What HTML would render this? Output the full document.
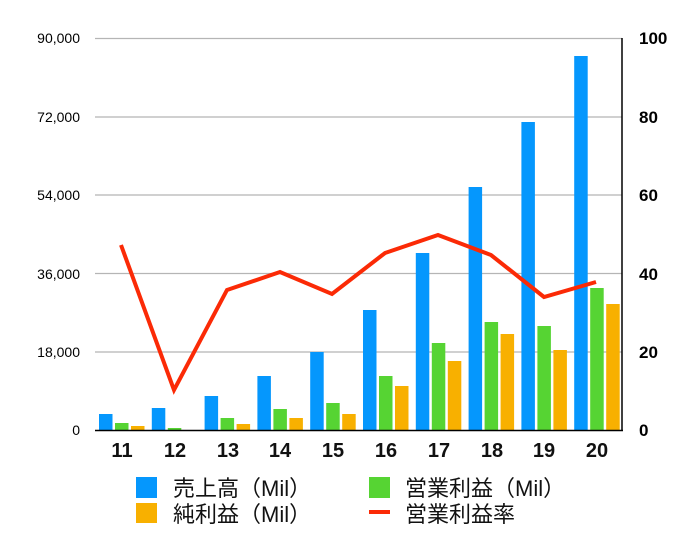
<!DOCTYPE html>
<html><head><meta charset="utf-8"><style>
html,body{margin:0;padding:0;background:#fff;}
svg{display:block;}
</style></head><body>
<svg width="699" height="545" xmlns="http://www.w3.org/2000/svg" font-family="'Liberation Sans','Noto Sans CJK JP',sans-serif">
<g stroke="#b5b5b5" stroke-width="1.3">
<line x1="95" y1="38.5" x2="622" y2="38.5"/>
<line x1="95" y1="117" x2="622" y2="117"/>
<line x1="95" y1="195" x2="622" y2="195"/>
<line x1="95" y1="273.5" x2="622" y2="273.5"/>
<line x1="95" y1="352" x2="622" y2="352"/>
</g>
<line x1="622" y1="38" x2="622" y2="431" stroke="#000" stroke-width="1.5"/>
<g id="bars">
<!-- x0 = 99 + 52.8k -->
<g fill="#0597fd">
<rect x="99" y="414" width="13.5" height="16"/>
<rect x="151.8" y="408" width="13.5" height="22"/>
<rect x="204.6" y="396" width="13.5" height="34"/>
<rect x="257.4" y="376" width="13.5" height="54"/>
<rect x="310.2" y="352" width="13.5" height="78"/>
<rect x="363" y="310" width="13.5" height="120"/>
<rect x="415.8" y="253" width="13.5" height="177"/>
<rect x="468.6" y="187" width="13.5" height="243"/>
<rect x="521.4" y="122" width="13.5" height="308"/>
<rect x="574.2" y="56" width="13.5" height="374"/>
</g>
<g fill="#56d433">
<rect x="115" y="423" width="13.5" height="7"/>
<rect x="167.8" y="428" width="13.5" height="2"/>
<rect x="220.6" y="418" width="13.5" height="12"/>
<rect x="273.4" y="409" width="13.5" height="21"/>
<rect x="326.2" y="403" width="13.5" height="27"/>
<rect x="379" y="376" width="13.5" height="54"/>
<rect x="431.8" y="343" width="13.5" height="87"/>
<rect x="484.6" y="322" width="13.5" height="108"/>
<rect x="537.4" y="326" width="13.5" height="104"/>
<rect x="590.2" y="288" width="13.5" height="142"/>
</g>
<g fill="#f8b000">
<rect x="131" y="426" width="13.5" height="4"/>
<rect x="236.6" y="424" width="13.5" height="6"/>
<rect x="289.4" y="418" width="13.5" height="12"/>
<rect x="342.2" y="414" width="13.5" height="16"/>
<rect x="395" y="386" width="13.5" height="44"/>
<rect x="447.8" y="361" width="13.5" height="69"/>
<rect x="500.6" y="334" width="13.5" height="96"/>
<rect x="553.4" y="350" width="13.5" height="80"/>
<rect x="606.2" y="304" width="13.5" height="126"/>
</g>
</g>
<line x1="95" y1="430.5" x2="623" y2="430.5" stroke="#000" stroke-width="1.5"/>
<polyline fill="none" stroke="#fb2a06" stroke-width="4" stroke-linejoin="miter" points="121,245 174,390 227,290 280,272 332,294 385,253 438,235 491,255 544,297 596,282"/>
<g font-size="14" fill="#000" text-anchor="end">
<text x="80" y="43">90,000</text>
<text x="80" y="122">72,000</text>
<text x="80" y="200">54,000</text>
<text x="80" y="279">36,000</text>
<text x="80" y="357">18,000</text>
<text x="80" y="435">0</text>
</g>
<g font-size="17" fill="#000" font-weight="bold">
<text x="639" y="44">100</text>
<text x="639" y="123">80</text>
<text x="639" y="201">60</text>
<text x="639" y="280">40</text>
<text x="639" y="358">20</text>
<text x="639" y="436">0</text>
</g>
<g font-size="20" font-weight="bold" fill="#111" text-anchor="middle">
<text x="122" y="457">11</text>
<text x="175" y="457">12</text>
<text x="228" y="457">13</text>
<text x="280" y="457">14</text>
<text x="333" y="457">15</text>
<text x="386" y="457">16</text>
<text x="439" y="457">17</text>
<text x="492" y="457">18</text>
<text x="544" y="457">19</text>
<text x="597" y="457">20</text>
</g>
<rect x="136" y="477" width="21" height="21" fill="#0597fd"/>
<rect x="136" y="503" width="21" height="20" fill="#f8b000"/>
<rect x="369" y="477" width="21" height="21" fill="#56d433"/>
<rect x="369" y="510" width="21" height="4" fill="#fb2a06"/>
<g font-size="22" fill="#111">
<text x="173" y="496">売上高（Mil）</text>
<text x="173" y="522">純利益（Mil）</text>
<text x="405" y="496">営業利益（Mil）</text>
<text x="405" y="522">営業利益率</text>
</g>
</svg>
</body></html>
